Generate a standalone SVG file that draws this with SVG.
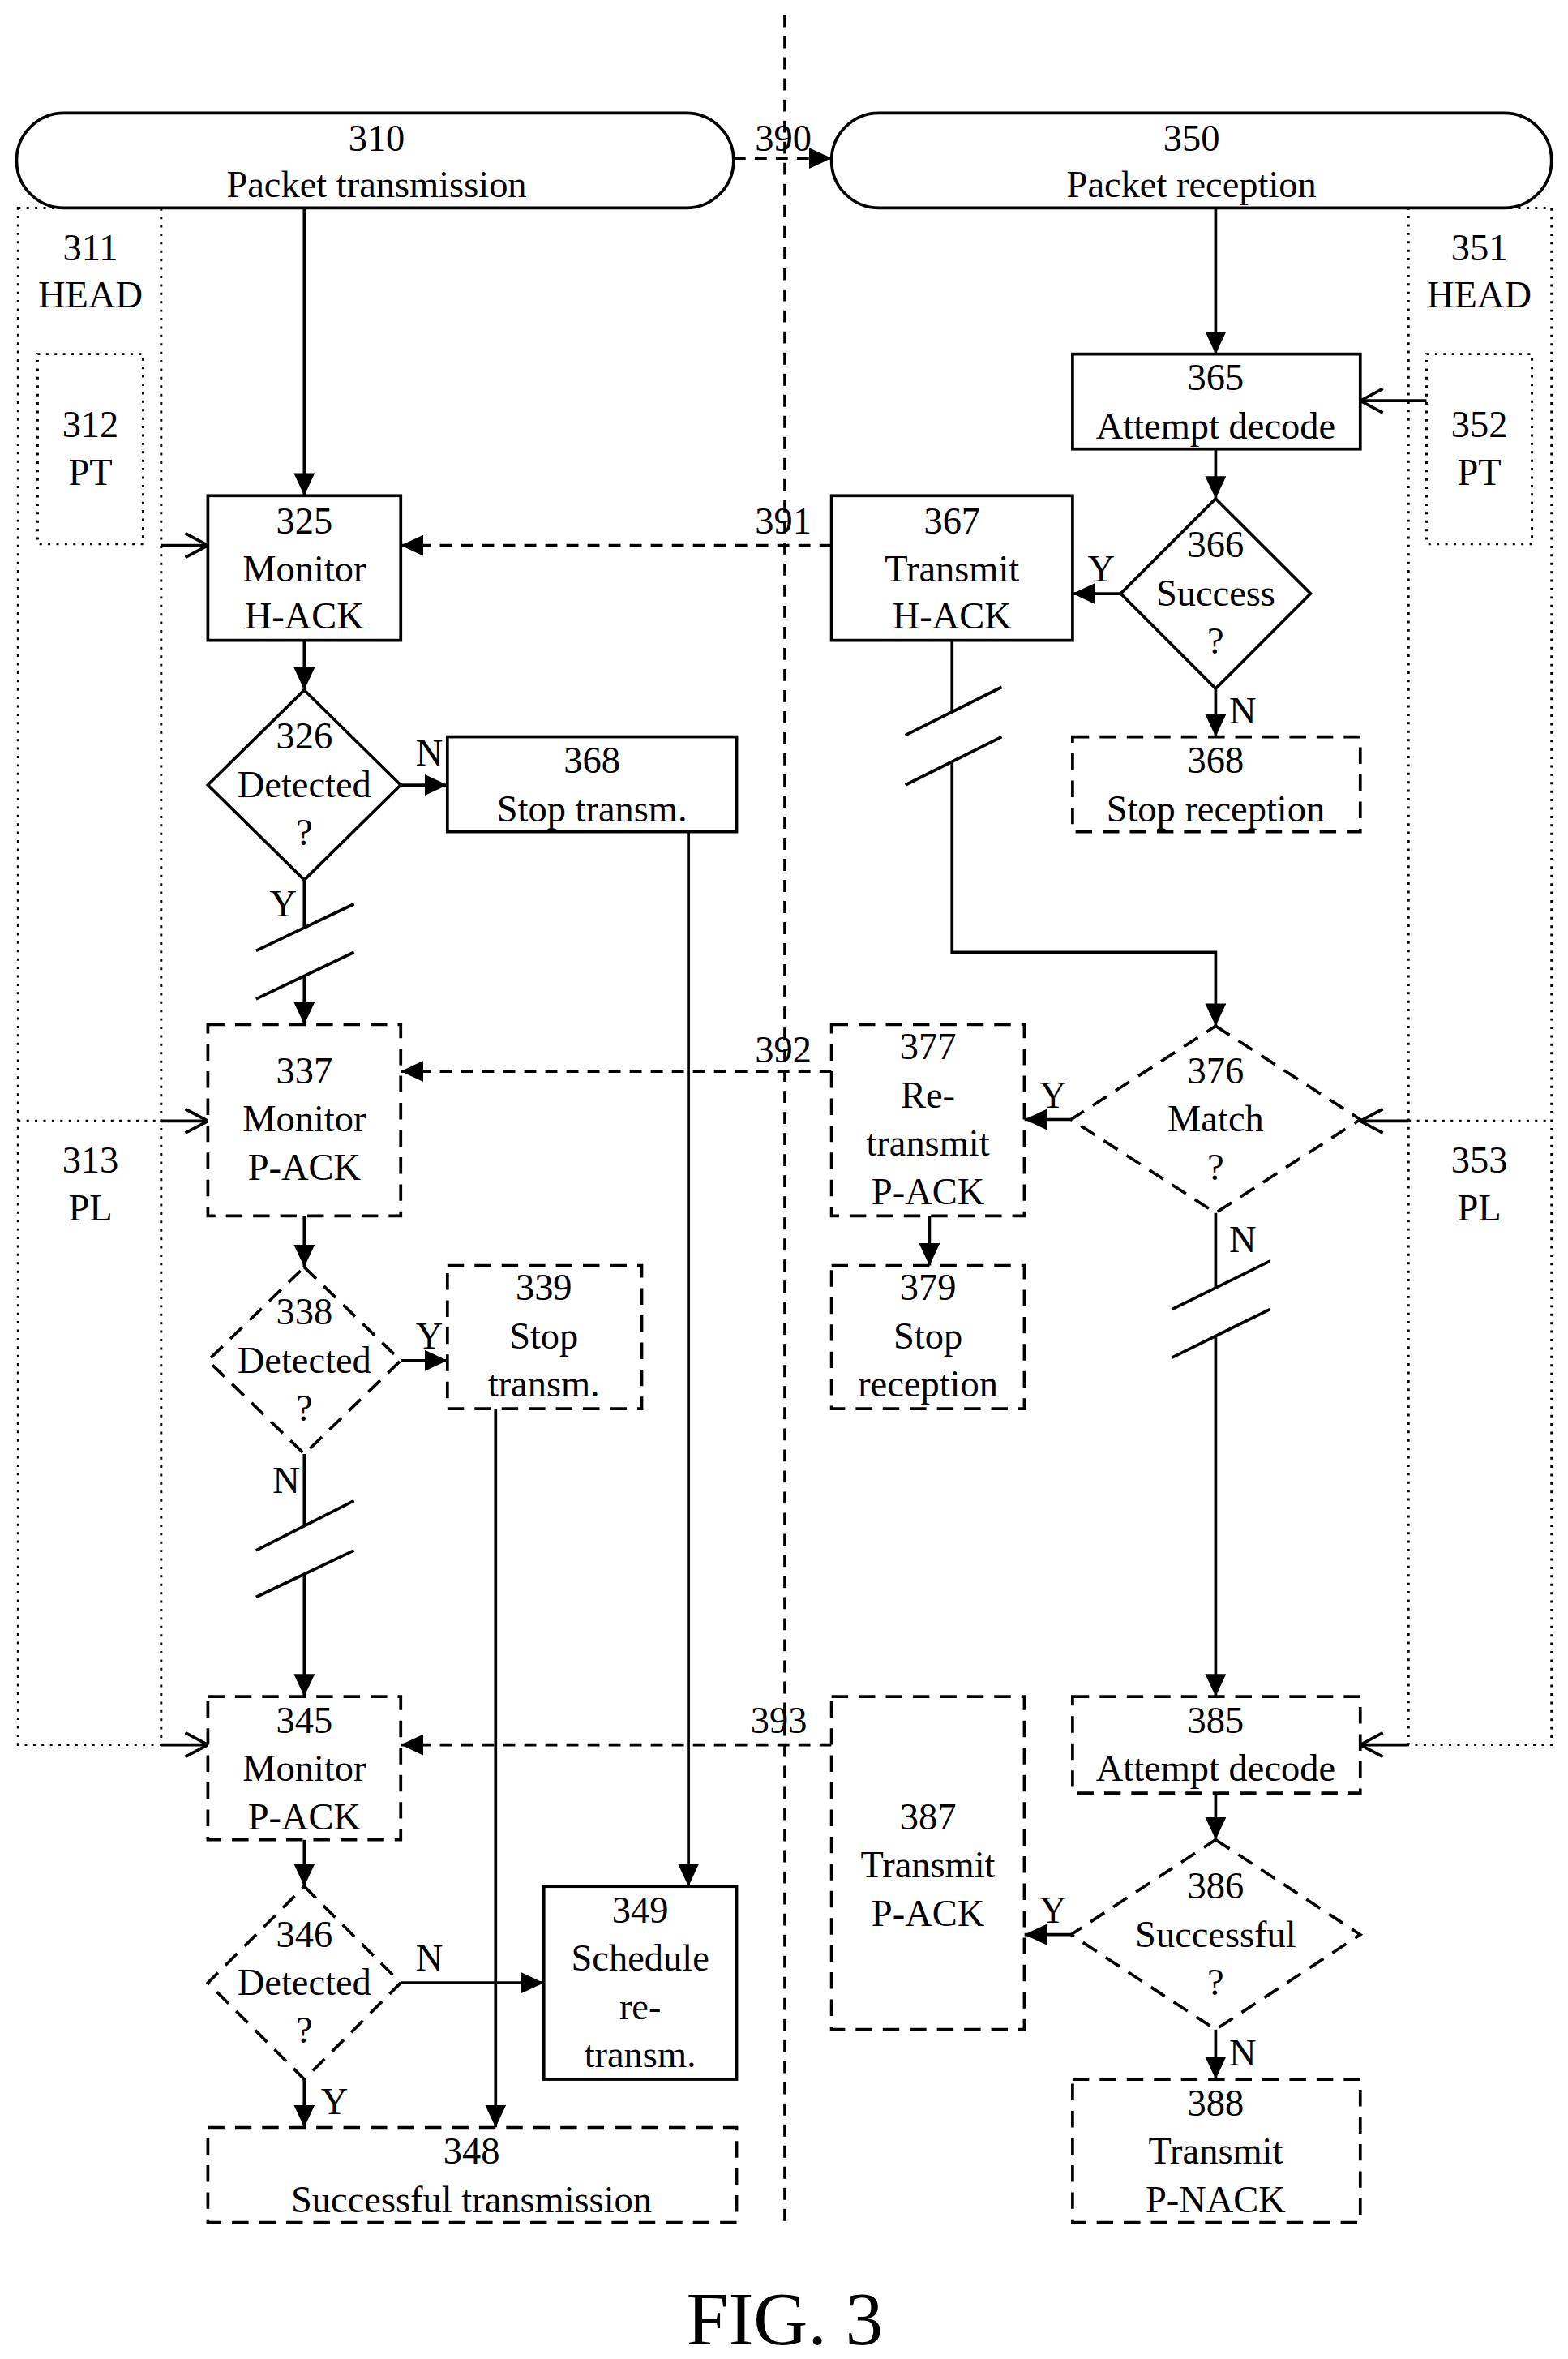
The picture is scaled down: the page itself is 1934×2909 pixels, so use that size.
<svg xmlns="http://www.w3.org/2000/svg" width="1934" height="2909" viewBox="0 0 1934 2909">
<style>
.s{fill:#fff;stroke:#000;stroke-width:2}
.d{fill:#fff;stroke:#000;stroke-width:2;stroke-dasharray:11,7}
.o{fill:none;stroke:#000;stroke-width:1.6;stroke-dasharray:1.6,4}
.l{fill:none;stroke:#000;stroke-width:2}
.ld{fill:none;stroke:#000;stroke-width:2;stroke-dasharray:8,6}
text{font-family:"Liberation Serif","Times New Roman",serif;font-size:25px;text-anchor:middle;fill:#000}
</style>
<defs>
<marker id="a" markerUnits="userSpaceOnUse" markerWidth="16" markerHeight="14" refX="15" refY="7" orient="auto" viewBox="0 0 16 14"><path d="M0,0 L15,7 L0,14 Z" fill="#000"/></marker>
<marker id="v" markerUnits="userSpaceOnUse" markerWidth="18" markerHeight="18" refX="16" refY="9" orient="auto" viewBox="0 0 18 18"><path d="M1,1 L16,9 L1,17" fill="none" stroke="#000" stroke-width="2"/></marker>
</defs>
<rect width="1934" height="2909" fill="#fff"/>
<g transform="scale(1.858)">
<g id="connectors">
<path class="ld" d="M521,10 V1475" stroke-dasharray="14,8"/>
<rect class="o" x="12" y="138" width="95" height="1020"/>
<path class="o" d="M12,744 H107"/>
<rect class="o" x="935" y="138" width="95" height="1020"/>
<path class="o" d="M935,744 H1030"/>
<path class="l" d="M107,362 H138" marker-end="url(#v)"/>
<path class="l" d="M107,744 H138" marker-end="url(#v)"/>
<path class="l" d="M107,1158 H138" marker-end="url(#v)"/>
<path class="l" d="M947,266 H903" marker-end="url(#v)"/>
<path class="l" d="M935,744 H903" marker-end="url(#v)"/>
<path class="l" d="M935,1158 H903" marker-end="url(#v)"/>
<path class="ld" d="M487,105 H552" marker-end="url(#a)"/>
<path class="ld" d="M552,362 H266" marker-end="url(#a)"/>
<path class="ld" d="M552,711 H266" marker-end="url(#a)"/>
<path class="ld" d="M552,1158 H266" marker-end="url(#a)"/>
<path class="l" d="M202,138 V329" marker-end="url(#a)"/>
<path class="l" d="M202,425 V458" marker-end="url(#a)"/>
<path class="l" d="M266,521 H297" marker-end="url(#a)"/>
<path class="l" d="M457,552 V1252" marker-end="url(#a)"/>
<path class="l" d="M202,584 V616"/>
<path class="l" d="M202,648 V680" marker-end="url(#a)"/>
<path class="l" d="M170,631 L235,600 M170,663 L235,632"/>
<path class="l" d="M202,807 V841" marker-end="url(#a)"/>
<path class="l" d="M266,903 H297" marker-end="url(#a)"/>
<path class="l" d="M329,935 V1412" marker-end="url(#a)"/>
<path class="l" d="M202,965 V1013"/>
<path class="l" d="M202,1045 V1126" marker-end="url(#a)"/>
<path class="l" d="M170,1029 L235,996 M170,1060 L235,1029"/>
<path class="l" d="M202,1221 V1252" marker-end="url(#a)"/>
<path class="l" d="M266,1316 H361" marker-end="url(#a)"/>
<path class="l" d="M202,1380 V1412" marker-end="url(#a)"/>
<path class="l" d="M807,138 V235" marker-end="url(#a)"/>
<path class="l" d="M807,298 V331" marker-end="url(#a)"/>
<path class="l" d="M744,394 H712" marker-end="url(#a)"/>
<path class="l" d="M807,457 V489" marker-end="url(#a)"/>
<path class="l" d="M632,425 V472"/>
<path class="l" d="M632,505 V632 H807 V681" marker-end="url(#a)"/>
<path class="l" d="M601,488 L665,456 M601,521 L665,489"/>
<path class="l" d="M711,743 H680" marker-end="url(#a)"/>
<path class="l" d="M617,807 V840" marker-end="url(#a)"/>
<path class="l" d="M807,805 V855"/>
<path class="l" d="M807,887 V1126" marker-end="url(#a)"/>
<path class="l" d="M778,869 L843,837 M778,901 L843,869"/>
<path class="l" d="M807,1190 V1221" marker-end="url(#a)"/>
<path class="l" d="M711,1284 H680" marker-end="url(#a)"/>
<path class="l" d="M807,1347 V1380" marker-end="url(#a)"/>
<text x="520" y="100">390</text>
<text x="520" y="354">391</text>
<text x="520" y="705">392</text>
<text x="517" y="1150">393</text>
<text x="285" y="508">N</text>
<text x="188" y="608">Y</text>
<text x="285" y="895">Y</text>
<text x="190" y="991">N</text>
<text x="285" y="1308">N</text>
<text x="222" y="1403">Y</text>
<text x="731" y="386">Y</text>
<text x="825" y="480">N</text>
<text x="699" y="735">Y</text>
<text x="825" y="831">N</text>
<text x="699" y="1276">Y</text>
<text x="825" y="1371">N</text>
</g>
<g id="n311"><text x="60" y="173">311</text><text x="60" y="204">HEAD</text></g>
<g id="n313"><text x="60" y="778">313</text><text x="60" y="810">PL</text></g>
<g id="n312"><rect class="o" x="25" y="235" width="70" height="126"/><text x="60" y="290">312</text><text x="60" y="322">PT</text></g>
<g id="n351"><text x="982" y="173">351</text><text x="982" y="204">HEAD</text></g>
<g id="n353"><text x="982" y="778">353</text><text x="982" y="810">PL</text></g>
<g id="n352"><rect class="o" x="947" y="235" width="70" height="126"/><text x="982" y="290">352</text><text x="982" y="322">PT</text></g>
<g id="n310"><rect class="s" x="11" y="75" width="476" height="63" rx="31.5"/><text x="250" y="100">310</text><text x="250" y="131">Packet transmission</text></g>
<g id="n350"><rect class="s" x="552" y="75" width="478" height="63" rx="31.5"/><text x="791" y="100">350</text><text x="791" y="131">Packet reception</text></g>
<g id="n325"><rect class="s" x="138" y="329" width="128" height="96"/><text x="202" y="354">325</text><text x="202" y="386">Monitor</text><text x="202" y="417">H-ACK</text></g>
<g id="n326"><path class="s" d="M202,458 L266,521 L202,584 L138,521 Z"/><text x="202" y="497">326</text><text x="202" y="529">Detected</text><text x="202" y="561">?</text></g>
<g id="n368a"><rect class="s" x="297" y="489" width="192" height="63"/><text x="393" y="513">368</text><text x="393" y="545">Stop transm.</text></g>
<g id="n337"><rect class="d" x="138" y="680" width="128" height="127"/><text x="202" y="719">337</text><text x="202" y="751">Monitor</text><text x="202" y="783">P-ACK</text></g>
<g id="n338"><path class="d" d="M202,841 L266,903 L202,965 L138,903 Z"/><text x="202" y="879">338</text><text x="202" y="911">Detected</text><text x="202" y="943">?</text></g>
<g id="n339"><rect class="d" x="297" y="840" width="129" height="95"/><text x="361" y="863">339</text><text x="361" y="895">Stop</text><text x="361" y="927">transm.</text></g>
<g id="n345"><rect class="d" x="138" y="1126" width="128" height="95"/><text x="202" y="1150">345</text><text x="202" y="1182">Monitor</text><text x="202" y="1214">P-ACK</text></g>
<g id="n346"><path class="d" d="M202,1252 L266,1316 L202,1380 L138,1316 Z"/><text x="202" y="1292">346</text><text x="202" y="1324">Detected</text><text x="202" y="1356">?</text></g>
<g id="n349"><rect class="s" x="361" y="1252" width="128" height="128"/><text x="425" y="1276">349</text><text x="425" y="1308">Schedule</text><text x="425" y="1340">re-</text><text x="425" y="1372">transm.</text></g>
<g id="n348"><rect class="d" x="138" y="1412" width="351" height="63"/><text x="313" y="1436">348</text><text x="313" y="1468">Successful transmission</text></g>
<g id="n365"><rect class="s" x="712" y="235" width="191" height="63"/><text x="807" y="259">365</text><text x="807" y="291">Attempt decode</text></g>
<g id="n366"><path class="s" d="M807,331 L870,394 L807,457 L744,394 Z"/><text x="807" y="370">366</text><text x="807" y="402">Success</text><text x="807" y="434">?</text></g>
<g id="n367"><rect class="s" x="552" y="329" width="160" height="96"/><text x="632" y="354">367</text><text x="632" y="386">Transmit</text><text x="632" y="417">H-ACK</text></g>
<g id="n368b"><rect class="d" x="712" y="489" width="191" height="63"/><text x="807" y="513">368</text><text x="807" y="545">Stop reception</text></g>
<g id="n376"><path class="d" d="M807,681 L903,743 L807,805 L711,743 Z"/><text x="807" y="719">376</text><text x="807" y="751">Match</text><text x="807" y="783">?</text></g>
<g id="n377"><rect class="d" x="552" y="680" width="128" height="127"/><text x="616" y="703">377</text><text x="616" y="735">Re-</text><text x="616" y="767">transmit</text><text x="616" y="799">P-ACK</text></g>
<g id="n379"><rect class="d" x="552" y="840" width="128" height="95"/><text x="616" y="863">379</text><text x="616" y="895">Stop</text><text x="616" y="927">reception</text></g>
<g id="n385"><rect class="d" x="712" y="1126" width="191" height="64"/><text x="807" y="1150">385</text><text x="807" y="1182">Attempt decode</text></g>
<g id="n386"><path class="d" d="M807,1221 L903,1284 L807,1347 L711,1284 Z"/><text x="807" y="1260">386</text><text x="807" y="1292">Successful</text><text x="807" y="1324">?</text></g>
<g id="n387"><rect class="d" x="552" y="1126" width="128" height="221"/><text x="616" y="1214">387</text><text x="616" y="1246">Transmit</text><text x="616" y="1278">P-ACK</text></g>
<g id="n388"><rect class="d" x="712" y="1380" width="191" height="95"/><text x="807" y="1404">388</text><text x="807" y="1436">Transmit</text><text x="807" y="1468">P-NACK</text></g>
<text x="521" y="1556" style="font-size:50px">FIG. 3</text>
</g>
</svg>
